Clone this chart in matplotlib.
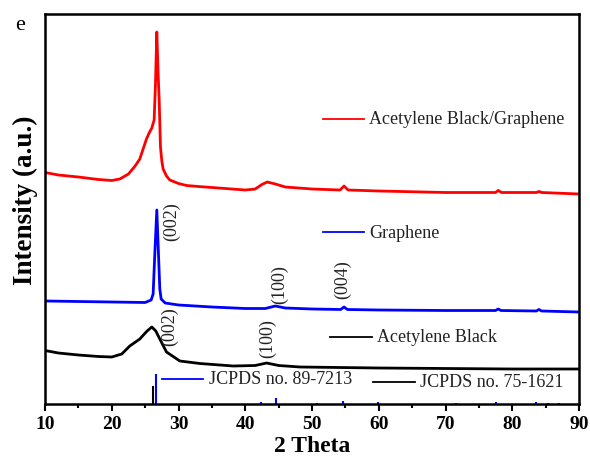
import numpy as np
import matplotlib
matplotlib.use('Agg')
import matplotlib.pyplot as plt

# XRD patterns (2 theta, offset intensity in a.u.)
red_theta = [10, 12, 15, 18, 20, 21.2, 22.5, 23.5, 24.2, 24.8, 25.2, 25.6, 26.0, 26.35, 26.55, 26.75,
             26.95, 27.1, 27.3, 27.5, 27.7, 28.2, 28.7, 30, 31.2, 33, 36, 40, 41.5, 42.5, 43.3, 44.5,
             46, 50, 54.2, 54.8, 55.4, 60, 70, 77.5, 77.9, 78.4, 83.6, 84.0, 84.4, 90]
red_int = [231.5, 229, 227, 224.5, 223.5, 225, 230, 238, 245, 257, 265, 271, 276, 284, 320, 372,
           330, 305, 257, 243, 235, 228, 224, 220.5, 218.5, 217.5, 216, 214, 215, 219.5, 222, 220,
           217, 215, 214, 218, 214, 213, 211.5, 211.5, 213.5, 211.5, 211.5, 212.5, 211.5, 210]

blue_theta = [10, 15, 20, 25, 25.9, 26.2, 26.45, 26.75, 27.0, 27.2, 27.4, 28, 30, 35, 40, 43, 44.5,
              46, 50, 54.3, 54.8, 55.3, 60, 70, 77.5, 77.9, 78.3, 83.6, 84.0, 84.4, 90]
blue_int = [103, 102.5, 102, 101.5, 104, 110, 150, 194, 150, 115, 105, 101, 99, 97, 95.5, 95.5, 98,
            96, 95, 94.5, 97, 94.5, 94, 93.5, 93.5, 95, 93.5, 93, 94.5, 93, 92]

black_theta = [10, 12, 15, 18, 20, 21.5, 22.7, 24.2, 25.3, 26.0, 26.6, 27.2, 28.2, 30.2, 33.2, 38.2,
               41.5, 43.2, 45, 48.2, 60, 70, 80, 90]
black_int = [53.5, 51, 49, 47.5, 47, 50, 58, 65, 73, 77, 73, 65, 52, 43, 40.5, 38, 38.5, 41, 38.5, 37,
             36, 35.5, 35, 35]

# JCPDS reference sticks
jcpds_blue_pos = [26.6, 42.4, 44.6, 50.7, 54.7, 59.9, 71.5, 77.5, 83.6, 85.4, 87.0]
jcpds_blue_h = [30, 2, 6, 1.5, 3, 2, 1.5, 2.5, 2.5, 1.5, 1.5]
jcpds_black_pos = [26.2]
jcpds_black_h = [18]

# Peak labels: text, 2 theta, height
peak_labels = [('(002)', 29.0, 183.5), ('(100)', 45.2, 120), ('(004)', 54.6, 125),
               ('(002)', 28.6, 78.5), ('(100)', 43.4, 66.5)]

# Legend entries: label, colour, line start, line end, height
legend_items = [('Acetylene Black/Graphene', 'red', 51.6, 57.8, 285),
                ('Graphene', 'blue', 51.6, 57.8, 172),
                ('Acetylene Black', 'black', 52.7, 59.0, 67),
                ('JCPDS no. 89-7213', 'blue', 27.5, 33.7, 25),
                ('JCPDS no. 75-1621', 'black', 59.1, 65.4, 22)]

SERIF = ['Liberation Serif', 'DejaVu Serif']
TEXT_COLOUR = '#222222'

plt.rcParams['font.family'] = SERIF

fig = plt.figure(figsize=(5.9, 4.64), dpi=100)
ax = fig.add_axes([45 / 590, 59 / 464, 534 / 590, 390 / 464])

ax.plot(red_theta, red_int, color='red', lw=2.0)
ax.plot(blue_theta, blue_int, color='blue', lw=2.0)
ax.plot(black_theta, black_int, color='black', lw=2.0)

ax.vlines(jcpds_black_pos, 0, jcpds_black_h, color='black', lw=1.5)
ax.vlines(jcpds_blue_pos, 0, jcpds_blue_h, color='blue', lw=1.5)

for txt, x, y in peak_labels:
    ax.text(x, y, txt, rotation=90, ha='center', va='center', fontsize=13, color=TEXT_COLOUR)

for label, col, x0, x1, y in legend_items:
    ax.plot([x0, x1], [y, y], color=col, lw=1.3)
    ax.text(x1 + 0.8, y, label, ha='left', va='center', fontsize=13, color=TEXT_COLOUR)

ax.set_xlim(10, 90)
ax.set_ylim(0, 390)
ax.set_xticks(np.arange(10, 91, 10))
ax.set_xticks(np.arange(15, 90, 10), minor=True)
ax.set_yticks([])
ax.tick_params(axis='x', which='major', direction='out', length=5, width=1.5, labelsize=14, pad=3)
ax.tick_params(axis='x', which='minor', direction='out', length=3, width=1.5)
for lbl in ax.get_xticklabels():
    lbl.set_fontweight('bold')
for sp in ax.spines.values():
    sp.set_linewidth(1.8)

ax.set_xlabel('2 Theta', fontsize=17, fontweight='bold', labelpad=2)
ax.set_ylabel('Intensity (a.u.)', fontsize=19.5, fontweight='bold')
ax.yaxis.set_label_coords(-0.013, 0.525)

fig.text(20 / 590, 1 - 25 / 464, 'e', fontsize=16, ha='center', va='center')

fig.savefig('out.png', dpi=100)
